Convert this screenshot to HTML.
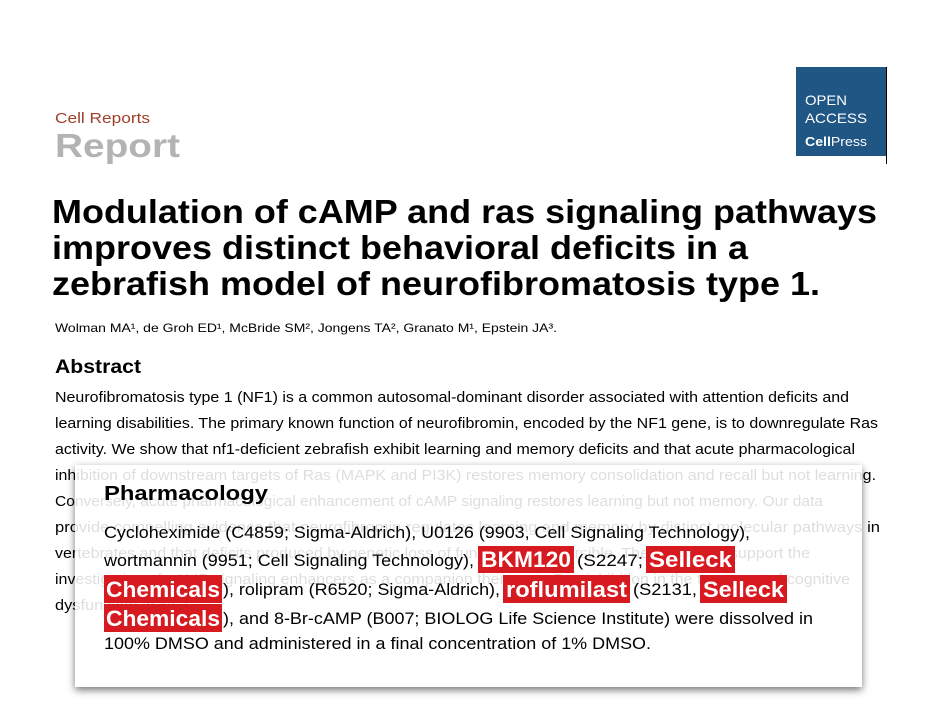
<!DOCTYPE html>
<html><head><meta charset="utf-8"><style>
html,body{margin:0;padding:0;background:#fff;}
svg{display:block;}
text{font-family:"Liberation Sans",Arial,sans-serif;}
</style></head><body>
<svg width="930" height="726" viewBox="0 0 930 726" xmlns="http://www.w3.org/2000/svg">
<defs>
<filter id="sh" x="-10%" y="-10%" width="120%" height="130%">
<feGaussianBlur stdDeviation="4"/>
</filter>
<clipPath id="bx"><rect x="75" y="465" width="787" height="222"/></clipPath>
</defs>
<rect width="930" height="726" fill="#fff"/>
<text x="55" y="123" font-size="15" fill="#a0402a" textLength="95" lengthAdjust="spacingAndGlyphs">Cell Reports</text>
<text x="55" y="157" font-size="33" font-weight="bold" fill="#b3b3b3" textLength="125" lengthAdjust="spacingAndGlyphs">Report</text>
<rect x="796" y="67" width="90" height="89" fill="#1f5684"/>
<line x1="886.5" y1="67" x2="886.5" y2="164" stroke="#000" stroke-width="1"/>
<text x="805" y="105" font-size="14" fill="#fff" textLength="42" lengthAdjust="spacingAndGlyphs">OPEN</text>
<text x="805" y="123" font-size="14" fill="#fff" textLength="62" lengthAdjust="spacingAndGlyphs">ACCESS</text>
<text x="805" y="146" font-size="13" fill="#fff" textLength="62" lengthAdjust="spacingAndGlyphs"><tspan font-weight="bold">Cell</tspan>Press</text>

<g font-weight="bold" font-size="33" fill="#000">
<text x="52" y="223" textLength="825" lengthAdjust="spacingAndGlyphs">Modulation of cAMP and ras signaling pathways</text>
<text x="52" y="259" textLength="696" lengthAdjust="spacingAndGlyphs">improves distinct behavioral deficits in a</text>
<text x="52" y="295" textLength="768" lengthAdjust="spacingAndGlyphs">zebrafish model of neurofibromatosis type 1.</text>
</g>
<text x="55" y="332" font-size="12" fill="#000" textLength="502" lengthAdjust="spacingAndGlyphs">Wolman MA¹, de Groh ED¹, McBride SM², Jongens TA², Granato M¹, Epstein JA³.</text>
<text x="55" y="373" font-size="19" font-weight="bold" fill="#000" textLength="86" lengthAdjust="spacingAndGlyphs">Abstract</text>
<g id="abs" font-size="15" fill="#000">
<text x="55" y="402" textLength="794" lengthAdjust="spacingAndGlyphs">Neurofibromatosis type 1 (NF1) is a common autosomal-dominant disorder associated with attention deficits and</text>
<text x="55" y="428" textLength="823" lengthAdjust="spacingAndGlyphs">learning disabilities. The primary known function of neurofibromin, encoded by the NF1 gene, is to downregulate Ras</text>
<text x="55" y="454" textLength="800" lengthAdjust="spacingAndGlyphs">activity. We show that nf1-deficient zebrafish exhibit learning and memory deficits and that acute pharmacological</text>
<text x="55" y="480" textLength="821" lengthAdjust="spacingAndGlyphs">inhibition of downstream targets of Ras (MAPK and PI3K) restores memory consolidation and recall but not learning.</text>
<text x="55" y="506" textLength="768" lengthAdjust="spacingAndGlyphs">Conversely, acute pharmacological enhancement of cAMP signaling restores learning but not memory. Our data</text>
<text x="55" y="532" textLength="825" lengthAdjust="spacingAndGlyphs">provide compelling evidence that neurofibromin regulates learning and memory by distinct molecular pathways in</text>
<text x="55" y="558" textLength="755" lengthAdjust="spacingAndGlyphs">vertebrates and that deficits produced by genetic loss of function are reversible. These findings support the</text>
<text x="55" y="584" textLength="795" lengthAdjust="spacingAndGlyphs">investigation of cAMP signaling enhancers as a companion therapy to Ras inhibition in the treatment of cognitive</text>
<text x="55" y="610" textLength="140" lengthAdjust="spacingAndGlyphs">dysfunction in NF1.</text>
</g>

<rect x="75" y="468" width="787" height="222" fill="#000" fill-opacity="0.55" filter="url(#sh)"/>
<rect x="75" y="465" width="787" height="222" fill="#fff"/>
<use href="#abs" clip-path="url(#bx)" opacity="0.13"/>

<text x="104" y="500" font-size="20" font-weight="bold" fill="#000" textLength="164" lengthAdjust="spacingAndGlyphs">Pharmacology</text>
<g font-size="17" fill="#000">
<text x="104" y="538" textLength="646" lengthAdjust="spacingAndGlyphs">Cycloheximide (C4859; Sigma-Aldrich), U0126 (9903, Cell Signaling Technology),</text>
<text x="104" y="566" textLength="370" lengthAdjust="spacingAndGlyphs">wortmannin (9951; Cell Signaling Technology),</text>
<text x="577" y="566" textLength="66" lengthAdjust="spacingAndGlyphs">(S2247;</text>
<text x="223" y="595" textLength="277" lengthAdjust="spacingAndGlyphs">), rolipram (R6520; Sigma-Aldrich),</text>
<text x="633" y="595" textLength="64" lengthAdjust="spacingAndGlyphs">(S2131,</text>
<text x="223" y="624" textLength="590" lengthAdjust="spacingAndGlyphs">), and 8-Br-cAMP (B007; BIOLOG Life Science Institute) were dissolved in</text>
<text x="104" y="649" textLength="547" lengthAdjust="spacingAndGlyphs">100% DMSO and administered in a final concentration of 1% DMSO.</text>
</g>
<g fill="#d71920">
<rect x="478" y="546" width="96" height="27"/>
<rect x="646" y="546" width="89" height="27"/>
<rect x="104" y="575" width="118" height="28"/>
<rect x="503" y="575" width="127" height="28"/>
<rect x="700" y="575" width="87" height="28"/>
<rect x="104" y="604" width="118" height="28"/>
</g>
<g font-size="22" font-weight="bold" fill="#fff">
<text x="481" y="567" textLength="90" lengthAdjust="spacingAndGlyphs">BKM120</text>
<text x="649" y="567" textLength="83" lengthAdjust="spacingAndGlyphs">Selleck</text>
<text x="106" y="597" textLength="114" lengthAdjust="spacingAndGlyphs">Chemicals</text>
<text x="506" y="597" textLength="121" lengthAdjust="spacingAndGlyphs">roflumilast</text>
<text x="703" y="597" textLength="81" lengthAdjust="spacingAndGlyphs">Selleck</text>
<text x="106" y="626" textLength="114" lengthAdjust="spacingAndGlyphs">Chemicals</text>
</g>
</svg>
</body></html>
